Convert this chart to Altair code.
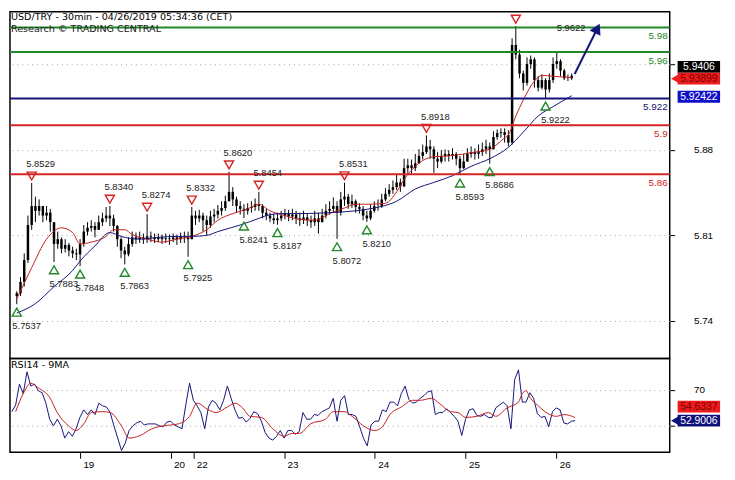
import altair as alt
import pandas as pd

# ---------------- data (hourly candles, USD/TRY, 18-26 Apr 2019) ----------------
first_open = 5.7604
close = [
    5.7627, 5.7720, 5.7898, 5.8185, 5.8340, 5.8301, 5.8340, 5.8262, 5.8286, 5.8208,
    5.8030, 5.8069, 5.7991, 5.8022, 5.7976, 5.7953, 5.7945, 5.8030, 5.8131, 5.8162,
    5.8177, 5.8146, 5.8208, 5.8239, 5.8262, 5.8239, 5.8177, 5.8069, 5.7976, 5.7945,
    5.8030, 5.8084, 5.8069, 5.8084, 5.8069, 5.8092, 5.8084, 5.8069, 5.8084, 5.8069,
    5.8076, 5.8069, 5.8084, 5.8069, 5.8092, 5.8084, 5.8069, 5.8262, 5.8239, 5.8262,
    5.8224, 5.8185, 5.8255, 5.8270, 5.8301, 5.8324, 5.8379, 5.8456, 5.8394, 5.8340,
    5.8317, 5.8301, 5.8324, 5.8332, 5.8355, 5.8340, 5.8286, 5.8262, 5.8239, 5.8224,
    5.8239, 5.8262, 5.8278, 5.8255, 5.8270, 5.8239, 5.8224, 5.8247, 5.8224, 5.8208,
    5.8239, 5.8208, 5.8262, 5.8301, 5.8317, 5.8340, 5.8286, 5.8394, 5.8417, 5.8355,
    5.8379, 5.8332, 5.8317, 5.8262, 5.8239, 5.8301, 5.8340, 5.8340, 5.8394, 5.8440,
    5.8472, 5.8495, 5.8533, 5.8502, 5.8650, 5.8673, 5.8650, 5.8689, 5.8750, 5.8781,
    5.8828, 5.8804, 5.8727, 5.8704, 5.8750, 5.8766, 5.8750, 5.8766, 5.8727, 5.8650,
    5.8704, 5.8766, 5.8781, 5.8766, 5.8781, 5.8804, 5.8828, 5.8804, 5.8905, 5.8936,
    5.8944, 5.8921, 5.8859, 5.9657, 5.9579, 5.9424, 5.9347, 5.9502, 5.9540, 5.9370,
    5.9308, 5.9370, 5.9293, 5.9370, 5.9502, 5.9525, 5.9447, 5.9385, 5.9385, 5.9406]
high = [
    5.7643, 5.7759, 5.7953, 5.8262, 5.8529, 5.8417, 5.8394, 5.8340, 5.8340, 5.8317,
    5.8208, 5.8131, 5.8084, 5.8069, 5.8038, 5.8007, 5.7991, 5.8069, 5.8185, 5.8208,
    5.8224, 5.8208, 5.8262, 5.8286, 5.8332, 5.8340, 5.8270, 5.8185, 5.8084, 5.8007,
    5.8084, 5.8131, 5.8123, 5.8131, 5.8115, 5.8274, 5.8131, 5.8115, 5.8115, 5.8107,
    5.8115, 5.8107, 5.8115, 5.8107, 5.8123, 5.8131, 5.8131, 5.8332, 5.8301, 5.8309,
    5.8286, 5.8262, 5.8301, 5.8317, 5.8348, 5.8379, 5.8425, 5.8620, 5.8495, 5.8417,
    5.8379, 5.8355, 5.8363, 5.8379, 5.8402, 5.8454, 5.8355, 5.8317, 5.8286, 5.8278,
    5.8286, 5.8301, 5.8317, 5.8309, 5.8317, 5.8301, 5.8286, 5.8301, 5.8278, 5.8262,
    5.8301, 5.8286, 5.8317, 5.8355, 5.8379, 5.8410, 5.8379, 5.8456, 5.8531, 5.8440,
    5.8433, 5.8394, 5.8363, 5.8340, 5.8301, 5.8355, 5.8379, 5.8394, 5.8440, 5.8487,
    5.8518, 5.8549, 5.8595, 5.8564, 5.8727, 5.8727, 5.8720, 5.8766, 5.8804, 5.8843,
    5.8918, 5.8882, 5.8828, 5.8781, 5.8797, 5.8804, 5.8797, 5.8812, 5.8781, 5.8750,
    5.8766, 5.8812, 5.8828, 5.8812, 5.8843, 5.8859, 5.8882, 5.8859, 5.8952, 5.8967,
    5.8975, 5.8975, 5.8960, 5.9711, 5.9812, 5.9618, 5.9447, 5.9556, 5.9571, 5.9556,
    5.9401, 5.9416, 5.9385, 5.9424, 5.9556, 5.9595, 5.9540, 5.9463, 5.9416, 5.9424]
low = [
    5.7537, 5.7604, 5.7681, 5.7875, 5.8146, 5.8208, 5.8262, 5.8208, 5.8224, 5.8131,
    5.7883, 5.7991, 5.7953, 5.7960, 5.7929, 5.7914, 5.7898, 5.7848, 5.8007, 5.8100,
    5.8131, 5.8084, 5.8146, 5.8177, 5.8208, 5.8177, 5.8131, 5.8007, 5.7914, 5.7863,
    5.7929, 5.8007, 5.8030, 5.8038, 5.8030, 5.8038, 5.8045, 5.8038, 5.8045, 5.8030,
    5.8038, 5.8022, 5.8045, 5.8022, 5.8038, 5.8038, 5.7925, 5.8069, 5.8185, 5.8208,
    5.8131, 5.8100, 5.8162, 5.8208, 5.8239, 5.8262, 5.8301, 5.8379, 5.8340, 5.8286,
    5.8270, 5.8241, 5.8270, 5.8286, 5.8301, 5.8301, 5.8239, 5.8224, 5.8208, 5.8193,
    5.8187, 5.8216, 5.8231, 5.8216, 5.8224, 5.8193, 5.8177, 5.8193, 5.8177, 5.8162,
    5.8177, 5.8115, 5.8208, 5.8239, 5.8270, 5.8286, 5.8072, 5.8262, 5.8340, 5.8317,
    5.8324, 5.8286, 5.8278, 5.8224, 5.8210, 5.8224, 5.8286, 5.8301, 5.8324, 5.8379,
    5.8417, 5.8440, 5.8472, 5.8456, 5.8495, 5.8611, 5.8595, 5.8626, 5.8689, 5.8720,
    5.8766, 5.8727, 5.8611, 5.8650, 5.8689, 5.8704, 5.8704, 5.8720, 5.8673, 5.8593,
    5.8642, 5.8704, 5.8735, 5.8720, 5.8727, 5.8750, 5.8766, 5.8686, 5.8804, 5.8882,
    5.8898, 5.8859, 5.8828, 5.8843, 5.9540, 5.9385, 5.9285, 5.9324, 5.9463, 5.9308,
    5.9277, 5.9293, 5.9222, 5.9269, 5.9347, 5.9463, 5.9401, 5.9370, 5.9362, 5.9370]

red_ma_bar = [0, 4, 8, 12, 15, 17, 20, 24, 26, 29, 31, 35, 39, 43, 47, 51, 54, 58, 62, 65,
              68, 72, 76, 80, 84, 88, 91, 95, 99, 102, 104, 107, 109, 112, 116, 120, 123,
              127, 131, 132, 134, 136, 139, 141, 144, 149]
red_ma = [5.7581, 5.7836, 5.8069, 5.8162, 5.8123, 5.8030, 5.8045, 5.8092, 5.8146, 5.8146,
          5.8107, 5.8069, 5.8045, 5.8069, 5.8092, 5.8146, 5.8224, 5.8278, 5.8317, 5.8355,
          5.8301, 5.8262, 5.8231, 5.8224, 5.8278, 5.8324, 5.8355, 5.8355, 5.8363, 5.8456,
          5.8557, 5.8665, 5.8712, 5.8743, 5.8750, 5.8766, 5.8781, 5.8804, 5.8898, 5.8921,
          5.9076, 5.9207, 5.9362, 5.9409, 5.9401, 5.93899]
blue_ma_bar = [0, 5, 10, 15, 17, 21, 25, 28, 33, 38, 43, 47, 51, 54, 60, 65, 67, 71, 76, 84,
               91, 96, 102, 107, 112, 117, 122, 127, 132, 136, 140, 144, 149]
blue_ma = [5.7465, 5.7542, 5.7681, 5.7813, 5.7890, 5.8014, 5.8123, 5.8092, 5.8069, 5.8084,
           5.8092, 5.8092, 5.8100, 5.8131, 5.8185, 5.8239, 5.8262, 5.8278, 5.8278, 5.8286,
           5.8301, 5.8324, 5.8379, 5.8479, 5.8533, 5.8588, 5.8665, 5.8727, 5.8820, 5.8944,
           5.9076, 5.9153, 5.92422]

rsi = [
    57.9, 61.6, 73.2, 67.9, 80.0, 72.1, 73.2, 69.5, 68.4, 62.6,
    53.7, 50.0, 53.7, 50.0, 43.2, 46.8, 44.2, 48.4, 54.7, 58.9,
    56.3, 58.9, 56.3, 62.6, 61.1, 60.5, 57.4, 50.0, 43.2, 36.3,
    40.5, 47.4, 50.0, 51.6, 52.6, 50.5, 51.1, 51.1, 51.1, 50.0,
    49.5, 52.1, 52.6, 50.5, 49.5, 48.4, 61.6, 73.7, 64.2, 61.1,
    57.4, 48.4, 60.5, 64.2, 62.6, 58.9, 64.2, 72.1, 65.3, 58.9,
    54.2, 54.7, 52.1, 54.2, 57.9, 56.8, 52.6, 46.3, 43.2, 42.1,
    44.2, 47.4, 43.2, 47.4, 47.4, 45.3, 46.8, 57.4, 53.7, 53.7,
    56.3, 55.8, 57.9, 58.9, 60.0, 65.3, 52.6, 64.2, 66.8, 56.3,
    56.3, 55.3, 49.5, 43.2, 38.9, 50.5, 52.6, 52.6, 58.9, 57.9,
    63.2, 63.2, 61.1, 67.9, 72.1, 64.7, 62.6, 63.2, 65.3, 66.8,
    68.9, 69.5, 56.3, 57.4, 57.4, 59.5, 57.4, 55.3, 52.6, 44.7,
    53.7, 58.9, 59.5, 55.8, 55.3, 56.3, 54.7, 54.7, 60.0, 61.6,
    63.2, 61.1, 48.4, 75.8, 81.1, 63.2, 63.2, 68.4, 65.3, 56.8,
    54.7, 55.3, 49.5, 57.9, 60.0, 58.9, 51.6, 51.1, 52.6, 52.9006]
rsi_ma_bar = [1, 3, 5, 7, 10, 12, 15, 17, 19, 21, 24, 26, 29, 31, 34, 37, 40, 44, 47, 49,
              52, 54, 57, 59, 61, 63, 66, 69, 72, 74, 76, 79, 83, 85, 88, 90, 93, 96, 98, 100,
              103, 106, 108, 111, 113, 116, 118, 120, 123, 126, 128, 131, 134, 135, 136, 137,
              139, 141, 144, 146, 149]
rsi_ma = [57.9, 67.9, 73.7, 71.1, 65.8, 57.4, 50.0, 47.4, 51.1, 57.4,
          57.9, 57.4, 50.0, 43.2, 44.7, 48.4, 50.0, 51.1, 55.3, 62.6,
          58.9, 57.4, 60.5, 62.6, 60.0, 55.3, 54.7, 48.4, 44.2, 45.8,
          45.8, 51.1, 53.7, 57.9, 57.9, 55.3, 50.0, 47.4, 49.5, 56.3,
          60.5, 64.2, 64.2, 65.3, 62.6, 57.9, 57.4, 54.7, 55.3, 57.4,
          55.3, 60.0, 63.2, 67.9, 69.5, 65.8, 61.6, 57.9, 55.3, 56.3, 54.6337]

day_bar = [18, 42, 48, 72, 96, 120, 144]
day_label = ["19", "20", "22", "23", "24", "25", "26"]
price_ticks = [5.74, 5.81, 5.88, 5.95]
rsi_ticks = [50, 70]

level_value = [5.98, 5.96, 5.922, 5.9, 5.86]
level_text = ["5.98", "5.96", "5.922", "5.9", "5.86"]
level_kind = ["resistance", "resistance", "pivot", "support", "support"]

peak_bar = [4, 25, 35, 47, 57, 65, 88, 110]
peak_value = [5.8529, 5.8340, 5.8274, 5.8332, 5.8620, 5.8454, 5.8531, 5.8918]
trough_bar = [0, 10, 17, 29, 46, 61, 70, 86, 94, 119, 127, 142]
trough_value = [5.7537, 5.7883, 5.7848, 5.7863, 5.7925, 5.8241, 5.8187, 5.8072, 5.8210,
                5.8593, 5.8686, 5.9222]
top_bar = [134]
top_text = ["5.9622"]

arrow_bar = [149.8, 155.9]
arrow_value = [5.9420, 5.9792]

title_lines = ["USD/TRY - 30min - 04/26/2019 05:34:36 (CET)", "Research \u00a9 TRADING CENTRAL"]
rsi_title = "RSI14 - 9MA"

# ---------------- layout / style ----------------
W, H1, H2 = 668, 351, 95
FONT = "Liberation Sans"
TFONT = "DejaVu Sans"
NAVY = "#14147a"
RED = "#d42424"
GREEN = "#22892a"
LS = 9.5

XS = alt.Scale(domain=[-0.5, 174.0], nice=False, zero=False)
YS = alt.Scale(domain=[5.7093, 5.9928], nice=False, zero=False)
RS = alt.Scale(domain=[35.3, 87.4], nice=False, zero=False)

YAX = alt.Axis(orient="right", values=price_ticks, format=".2f", title=None, domain=False,
               tickSize=5, labelPadding=19, grid=True, gridDash=[1, 4], gridColor="#a8a8a8",
               labelFontSize=10, labelExpr="datum.value > 5.94 ? '' : datum.label")
RAX = alt.Axis(orient="right", values=rsi_ticks, format="d", title=None, domain=False,
               tickSize=5, labelPadding=19, grid=True, gridDash=[1, 4], gridColor="#a8a8a8",
               labelFontSize=10, labelExpr="datum.value < 60 ? '' : datum.label")
expr = " : ".join(f"datum.value == {b} ? '{d}'" for b, d in zip(day_bar, day_label)) + " : ''"
XAX = alt.Axis(values=day_bar, labelExpr=expr, title=None, domain=False, grid=False,
               tickSize=6, labelAlign="left", labelOffset=3, labelPadding=1,
               labelFontSize=10, labelBaseline="top")


def xm(f):
    return alt.X(f"{f}:Q", scale=XS, axis=None)


def ym(f):
    return alt.Y(f"{f}:Q", scale=YS, axis=YAX)


def xr(f):
    return alt.X(f"{f}:Q", scale=XS, axis=XAX)


def yr(f):
    return alt.Y(f"{f}:Q", scale=RS, axis=RAX)


df = pd.DataFrame({"bar": list(range(len(close))), "close": close, "high": high, "low": low})
df["open"] = [first_open] + close[:-1]

red_df = pd.DataFrame({"bar": red_ma_bar, "v": red_ma})
blue_df = pd.DataFrame({"bar": blue_ma_bar, "v": blue_ma})
lev_df = pd.DataFrame({"v": level_value, "t": level_text, "kind": level_kind})
peak_df = pd.DataFrame({"bar": peak_bar, "v": peak_value})
trough_df = pd.DataFrame({"bar": trough_bar, "v": trough_value})
top_df = pd.DataFrame({"bar": top_bar, "v": [high[b] for b in top_bar], "t": top_text})
arrow_df = pd.DataFrame({"bar": arrow_bar, "v": arrow_value})
head_df = arrow_df.tail(1)

lev_color = alt.Color("kind:N", legend=None,
                      scale=alt.Scale(domain=["resistance", "pivot", "support"],
                                      range=[GREEN, NAVY, RED]))

wicks = alt.Chart(df).mark_rule(color="black", strokeWidth=1).encode(
    x=xm("bar"), y=ym("low"), y2="high:Q")
bodies = alt.Chart(df).mark_bar(color="black", width=2.5).encode(
    x=xm("bar"), y=ym("open"), y2="close:Q")
red_line = alt.Chart(red_df).mark_line(color="#c41e1e", strokeWidth=1, interpolate="monotone").encode(
    x=xm("bar"), y=ym("v"))
blue_line = alt.Chart(blue_df).mark_line(color=NAVY, strokeWidth=1, interpolate="monotone").encode(
    x=xm("bar"), y=ym("v"))
levels = alt.Chart(lev_df).mark_rule(strokeWidth=2).encode(y=ym("v"), color=lev_color)
lev_labels = alt.Chart(lev_df).mark_text(align="right", baseline="middle", dy=9, fontSize=10).encode(
    x=alt.value(W - 2), y=ym("v"), text="t:N", color=lev_color)

peak_tri = alt.Chart(peak_df).mark_point(shape="triangle-down", color=RED, size=85, strokeWidth=1.4,
                                         filled=False, opacity=1, yOffset=-7).encode(
    x=xm("bar"), y=ym("v"))
peak_txt = alt.Chart(peak_df).mark_text(fontSize=LS, color="#222", dx=9, dy=-19).encode(
    x=xm("bar"), y=ym("v"), text=alt.Text("v:Q", format=".4f"))
trough_tri = alt.Chart(trough_df).mark_point(shape="triangle-up", color=GREEN, size=85, strokeWidth=1.4,
                                             filled=False, opacity=1, yOffset=8).encode(
    x=xm("bar"), y=ym("v"))
trough_txt = alt.Chart(trough_df).mark_text(fontSize=LS, color="#222", dx=10, dy=22).encode(
    x=xm("bar"), y=ym("v"), text=alt.Text("v:Q", format=".4f"))
top_tri = alt.Chart(top_df).mark_point(shape="triangle-down", color=RED, size=85, strokeWidth=1.4,
                                       filled=False, opacity=1, yOffset=-7).encode(
    x=xm("bar"), y=ym("v"))
top_txt = alt.Chart(top_df).mark_text(fontSize=LS, color="#222", dx=56, dy=2).encode(
    x=xm("bar"), y=ym("v"), text="t:N")

arrow_line = alt.Chart(arrow_df).mark_line(color=NAVY, strokeWidth=2).encode(x=xm("bar"), y=ym("v"))
arrow_head = alt.Chart(head_df).mark_point(shape="triangle-up", filled=True, color=NAVY, size=150,
                                           angle=26, opacity=1).encode(x=xm("bar"), y=ym("v"))

title_df = pd.DataFrame({"t": title_lines})
title1 = alt.Chart(title_df.head(1)).mark_text(align="left", baseline="top", fontSize=9.7, font=TFONT,
                                               color="black").encode(
    x=alt.value(1), y=alt.value(0), text="t:N")
title2 = alt.Chart(title_df.tail(1)).mark_text(align="left", baseline="top", fontSize=9.7, font=TFONT,
                                               color="#1a1a1a").encode(
    x=alt.value(1), y=alt.value(12), text="t:N")


def value_box(value, bg, fg, yfun, shift, pointer):
    d = pd.DataFrame({"v": [value], "t": [str(value)]})
    base = alt.Chart(d)
    out = []
    if pointer:
        out.append(base.mark_point(shape="triangle-left", filled=True, color=bg, size=70, opacity=1,
                                   yOffset=shift).encode(x=alt.value(W + 5), y=yfun("v")))
    out.append(base.mark_rule(color=bg, strokeWidth=12, yOffset=shift).encode(
        x=alt.value(W + 8), x2=alt.value(W + 51), y=yfun("v")))
    out.append(base.mark_text(color=fg, fontSize=10.5, align="center", baseline="middle",
                              yOffset=shift).encode(x=alt.value(W + 29.5), y=yfun("v"), text="t:N"))
    return out


boxes = (value_box(close[-1], "#000000", "white", ym, -9, False)
         + value_box(red_ma[-1], "#ee1c1c", "#7a0000", ym, 1, True)
         + value_box(blue_ma[-1], "#1010c8", "white", ym, 1, False))

main = alt.layer(
    wicks, bodies, red_line, blue_line, levels, lev_labels,
    peak_tri, peak_txt, trough_tri, trough_txt, top_tri, top_txt,
    arrow_line, arrow_head, title1, title2, *boxes
).properties(width=W, height=H1)

rsi_df = pd.DataFrame({"bar": list(range(len(rsi))), "v": rsi})
rsi_ma_df = pd.DataFrame({"bar": rsi_ma_bar, "v": rsi_ma})
rsi_line = alt.Chart(rsi_df).mark_line(color=NAVY, strokeWidth=1).encode(x=xr("bar"), y=yr("v"))
rsi_ma_line = alt.Chart(rsi_ma_df).mark_line(color="#c41e1e", strokeWidth=1, interpolate="monotone").encode(
    x=xr("bar"), y=yr("v"))
rsi_lab = alt.Chart(pd.DataFrame({"t": [rsi_title]})).mark_text(
    align="left", baseline="top", fontSize=9.7, font=TFONT, color="black").encode(
    x=alt.value(1), y=alt.value(2), text="t:N")
rboxes = (value_box(rsi_ma[-1], "#ee1c1c", "#7a0000", yr, -11, False)
          + value_box(rsi[-1], "#10107a", "white", yr, 0, True))

rsi_chart = alt.layer(rsi_line, rsi_ma_line, rsi_lab, *rboxes).properties(width=W, height=H2)

chart = alt.vconcat(main, rsi_chart, spacing=0, bounds="flush").properties(
    padding=0
).configure_view(
    stroke="black", strokeWidth=1.5
).configure_axis(
    labelFont=FONT, labelColor="black", tickColor="black"
).configure_text(font=FONT)

chart.save("out.html", embed_options={"renderer": "svg", "actions": False})
